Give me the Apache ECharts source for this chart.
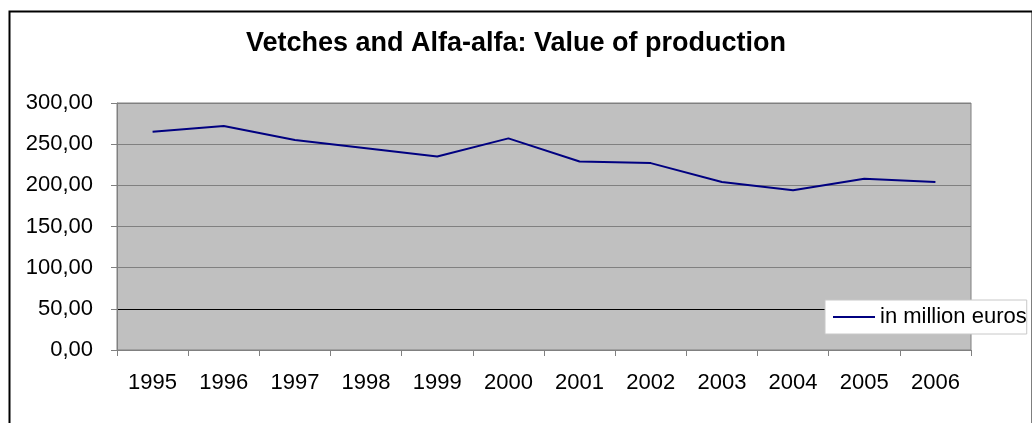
<!DOCTYPE html>
<html>
<head>
<meta charset="utf-8">
<script src="https://cdn.jsdelivr.net/npm/echarts@6/dist/echarts.min.js"></script>
<style>
  html, body { margin: 0; padding: 0; background: #fff; }
  #chart { width: 1032px; height: 423px; }
</style>
</head>
<body>
<div id="chart"></div>
<script>
// data
var years = ['1995', '1996', '1997', '1998', '1999', '2000', '2001', '2002', '2003', '2004', '2005', '2006'];
var values = [265, 272, 255, 245, 235, 257, 229, 227, 204, 194, 208, 204];
var seriesName = 'in million euros';
var yMin = 0, yMax = 300, yStep = 50;

var chart = echarts.init(document.getElementById('chart'));

var option = {
    animation: false,
    textStyle: { fontFamily: 'Liberation Sans, Arial, sans-serif' },
    title: {
        text: 'Vetches and Alfa-alfa: Value of production',
        left: 'center',
        top: 25,
        textStyle: { fontSize: 27, fontWeight: 'bold', color: '#000', fontFamily: 'Liberation Sans, Arial, sans-serif' }
    },
    graphic: [{
        type: 'rect',
        left: 7, top: 9,
        shape: { width: 1023, height: 480 },
        style: { fill: 'none', stroke: '#000', lineWidth: 2 },
        silent: true
    }],
    legend: {
        left: 825,
        top: 300,
        orient: 'horizontal',
        backgroundColor: '#fff',
        borderColor: '#c8c8c8',
        borderWidth: 1,
        padding: [6, 0, 6, 8],
        icon: 'rect',
        itemWidth: 42,
        itemHeight: 2,
        itemGap: 4,
        textStyle: { fontSize: 22, color: '#000' },
        data: [seriesName]
    },
    grid: {
        left: 117,
        top: 103,
        right: 61,
        bottom: 73,
        show: true,
        backgroundColor: '#c0c0c0',
        borderColor: '#808080',
        borderWidth: 1
    },
    xAxis: {
        type: 'category',
        data: years,
        boundaryGap: true,
        axisLine: { lineStyle: { color: '#808080', width: 1 } },
        axisTick: { show: true, length: 6, lineStyle: { color: '#808080' } },
        axisLabel: { fontSize: 22, color: '#000', margin: 22 }
    },
    yAxis: {
        type: 'value',
        min: yMin,
        max: yMax,
        interval: yStep,
        axisLine: { show: true, lineStyle: { color: '#808080' } },
        axisTick: { show: true, length: 6, lineStyle: { color: '#808080' } },
        axisLabel: {
            fontSize: 22,
            color: '#000',
            margin: 24,
            formatter: function (v) { return v.toFixed(2).replace('.', ','); }
        },
        splitLine: {
            show: true,
            lineStyle: { color: ['#808080', '#000000', '#808080', '#808080', '#808080', '#808080', '#808080'], width: 1 }
        }
    },
    series: [{
        name: seriesName,
        type: 'line',
        data: values,
        symbol: 'none',
        lineStyle: { color: '#000080', width: 2 },
        itemStyle: { color: '#000080' }
    }]
};
chart.setOption(option);
</script>
</body>
</html>
